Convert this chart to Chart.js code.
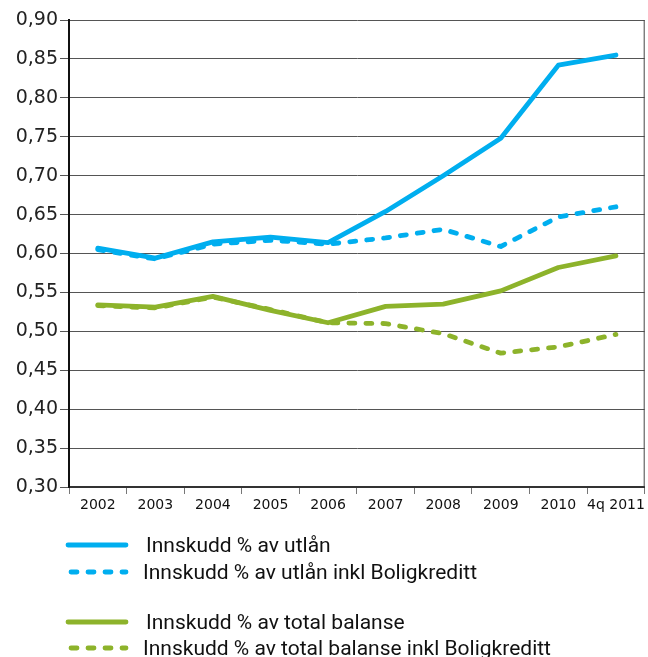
<!DOCTYPE html>
<html>
<head>
<meta charset="utf-8">
<script src="https://cdn.jsdelivr.net/npm/chart.js"></script>
<style>
  html, body { margin: 0; padding: 0; background: #fff; }
  #wrap { width: 648px; height: 657px; }
</style>
</head>
<body>
<div id="wrap"><canvas id="chart" width="648" height="657"></canvas></div>
<script>
const years = ['2002', '2003', '2004', '2005', '2006', '2007', '2008', '2009', '2010', '4q 2011'];

const utlan = [0.607, 0.594, 0.615, 0.621, 0.614, 0.654, 0.700, 0.748, 0.842, 0.855];
const utlanBolig = [0.605, 0.593, 0.612, 0.617, 0.612, 0.620, 0.631, 0.609, 0.647, 0.660];
const balanse = [0.534, 0.531, 0.545, 0.527, 0.511, 0.532, 0.535, 0.552, 0.582, 0.597];
const balanseBolig = [0.533, 0.530, 0.544, 0.528, 0.511, 0.510, 0.497, 0.472, 0.480, 0.496];

const BLUE = '#00aeef';
const GREEN = '#8db32b';
const DASH = [6, 11];

const seriesNames = [
  'Innskudd % av utlån',
  'Innskudd % av utlån inkl Boligkreditt',
  'Innskudd % av total balanse',
  'Innskudd % av total balanse inkl Boligkreditt',
];

function line(label, data, color, dashed) {
  return {
    label,
    data,
    borderColor: color,
    backgroundColor: color,
    borderWidth: 4.8,
    borderDash: dashed ? DASH : [],
    borderCapStyle: 'round',
    borderJoinStyle: 'round',
    pointRadius: 0,
    tension: 0,
    fill: false,
  };
}

// legend block under the axis + right frame line
const extras = {
  id: 'extras',
  afterDraw(chart) {
    const ctx = chart.ctx;
    const a = chart.chartArea;
    ctx.save();
    ctx.strokeStyle = '#444';
    ctx.lineWidth = 1;
    ctx.beginPath();
    ctx.moveTo(a.right - 0.5, a.top);
    ctx.lineTo(a.right - 0.5, a.bottom);
    ctx.stroke();

    const rows = [545, 572, 622, 648];
    chart.data.datasets.forEach((ds, i) => {
      const y = rows[i];
      const dashed = ds.borderDash.length > 0;
      ctx.strokeStyle = ds.borderColor;
      ctx.lineWidth = 4.8;
      ctx.lineCap = 'round';
      ctx.setLineDash(dashed ? DASH : []);
      ctx.beginPath();
      ctx.moveTo(dashed ? 71 : 68, y);
      ctx.lineTo(126, y);
      ctx.stroke();
      ctx.setLineDash([]);
      ctx.fillStyle = '#111';
      ctx.font = '21px Roboto';
      ctx.textBaseline = 'middle';
      ctx.fillText(ds.label, i % 2 ? 143 : 146, y + 2);
    });
    ctx.restore();
  },
};

new Chart(document.getElementById('chart'), {
  type: 'line',
  data: {
    labels: years,
    datasets: [
      line(seriesNames[0], utlan, BLUE, false),
      line(seriesNames[1], utlanBolig, BLUE, true),
      line(seriesNames[2], balanse, GREEN, false),
      line(seriesNames[3], balanseBolig, GREEN, true),
    ],
  },
  options: {
    responsive: false,
    animation: false,
    layout: { padding: { top: 20, right: 3, left: 0, bottom: 0 } },
    plugins: { legend: { display: false }, tooltip: { enabled: false } },
    scales: {
      x: {
        offset: true,
        grid: { offset: true, drawOnChartArea: false, drawTicks: true, tickLength: 7, color: '#777' },
        border: { color: '#333', width: 2 },
        ticks: { color: '#111', font: { family: 'DejaVu Sans', size: 14 }, padding: 3, maxRotation: 0, autoSkip: false },
        afterFit(scale) { scale.height = 170; },
      },
      y: {
        min: 0.3,
        max: 0.9,
        grid: { color: '#555', lineWidth: 1, tickLength: 9 },
        border: { color: '#111', width: 2 },
        ticks: {
          stepSize: 0.05,
          color: '#222',
          padding: 2,
          font: { family: 'DejaVu Sans', size: 19 },
          callback: (v) => v.toFixed(2).replace('.', ','),
        },
        afterFit(scale) { scale.width = 69; },
      },
    },
  },
  plugins: [extras],
});
</script>
</body>
</html>
